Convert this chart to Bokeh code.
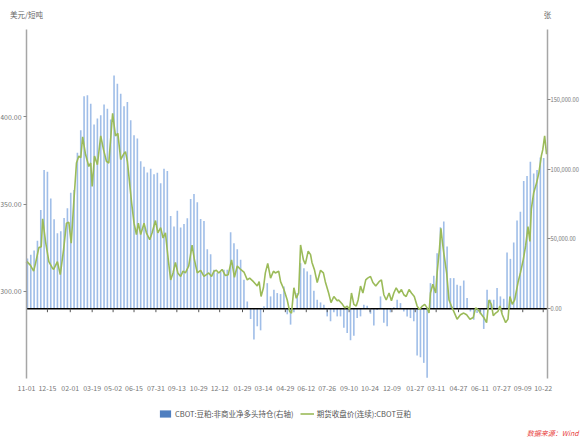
import pandas as pd
from bokeh.plotting import figure
from bokeh.models import (Range1d, LinearAxis, FixedTicker, NumeralTickFormatter,
                          DatetimeTickFormatter, Legend, LegendItem, Label)
from bokeh.embed import file_html
from bokeh.resources import INLINE

# ---------------- data ----------------
# CBOT soybean meal: non-commercial net long position (contracts, right axis), weekly
net_long = [
    36000, 38600, 41700, 48600, 70700, 99300, 98100, 79000, 64000, 54000,
    55500, 65000, 72000, 83000, 85000, 111700, 127900, 152100, 152900, 146900,
    131900, 136200, 138600, 146200, 143300, 135500, 167100, 161200, 154000, 145000,
    148100, 135000, 124300, 121900, 105700, 101700, 97600, 100200, 96400, 97400,
    89800, 100200, 98600, 66400, 58800, 70200, 58100, 60700, 64800, 78600,
    82100, 76200, 64300, 62900, 42600, 39000, 27900, 25900, 26700, 27900,
    27900, 54800, 46900, 42600, 35000, 20700, 5200, -7400, -22100, -12600,
    -15500, 1700, 18300, 8800, 13600, 11200, 10500, 15900, -4000, -11400,
    -2600, 11200, 32600, 29000, 26700, 24300, 12900, 6400, 4500, 2900,
    -5500, -9000, -2600, -5500, -5500, -13600, -17400, -22600, -19300, -6700,
    -5500, 2900, 2100, -3600, -12100, -1000, 8800, -10000, -12600, -2600,
    1000, 6400, 4000, -2000, -5500, -6700, -9000, -33600, -34800, -38800,
    -49500, 18300, 23600, 39800, 58300, 62400, 44500, 21900, 21900, 17100,
    16400, 20200, 7600, -2000, -7900, -3000, -4000, -14500, 13600, 6400,
    6400, 14800, 8800, 7100, 40200, 35700, 47400, 63100, 69500, 91400,
    95000, 105200, 96900, 99300, 108300, 108000,
]
net_first_date = "2017-11-03"

# continuous futures close, USD / short ton (left axis); days after price_start
price_start = "2017-11-01"
price_day = [
    0, 1, 8, 15, 19, 26, 31, 34, 40, 47, 54, 57, 65, 71, 78, 84, 89, 94, 99, 105,
    110, 114, 118, 124, 131, 135, 138, 143, 149, 156, 162, 168, 173, 181, 187, 192, 198, 205, 208, 212,
    216, 221, 226, 231, 235, 240, 247, 252, 259, 264, 271, 276, 282, 287, 292, 298, 303, 308, 313, 318,
    324, 329, 334, 341, 348, 353, 359, 366, 373, 378, 383, 389, 394, 399, 404, 411, 418, 424, 431, 437,
    443, 450, 457, 464, 469, 477, 485, 489, 493, 498, 502, 507, 513, 519, 523, 530, 534, 541, 548, 553,
    557, 562, 567, 572, 576, 582, 586, 592, 597, 600, 605, 611, 618, 624, 628, 635, 640, 646, 653, 656,
    664, 669, 674, 679, 683, 688, 693, 697, 702, 707, 713, 717, 723, 728, 734, 741, 746, 751, 756, 762,
    767, 772, 777, 783, 788, 793, 798, 804, 809, 815, 821, 826, 832, 837, 842, 846, 849, 854, 860, 863,
    868, 871, 874, 877, 883, 888, 893, 898, 905, 912, 919, 925, 932, 939, 944, 949, 954, 961, 967, 972,
    977, 981, 986, 991, 995, 1000, 1007, 1012, 1016, 1021, 1026, 1033, 1038, 1044, 1049, 1054, 1058, 1061, 1066, 1072,
    1077, 1082, 1085, 1089, 1093,
]
price = [
    316, 317, 315, 311.5, 316, 325, 325.5, 341.5, 328.5, 317, 313.5, 312.5, 317, 309.5, 324, 339, 339.5, 327.5, 349.5, 373.5,
    377.5, 376.5, 388.5, 378.5, 371.5, 373.5, 360, 377.5, 372.5, 389, 381, 374.5, 373.5, 402, 389, 390.5, 375.5, 379, 380, 374.5,
    364, 350.5, 339, 332.5, 339, 332.5, 339, 333.5, 329.5, 333.5, 340.5, 333.5, 336.5, 330.5, 333.5, 318, 306.5, 310.5, 316.5, 310.5,
    308.5, 311.5, 310.5, 314.5, 326.5, 318, 310.5, 312, 308.5, 309.5, 310.5, 308.5, 311.5, 312, 310.5, 312.5, 309, 309.5, 318, 308,
    314.5, 312.5, 311, 306.5, 307.5, 305.5, 303, 305.5, 297, 302, 310.5, 316, 307.5, 311.5, 310.5, 311.5, 305.5, 301, 295, 288.5,
    287.5, 302, 296, 299, 326.5, 318, 315.5, 323, 321, 316.5, 312.5, 305, 312, 310.5, 305.5, 299, 293.5, 297, 294.5, 295,
    292.5, 290.5, 291.5, 289.5, 299, 292.5, 291.5, 295, 303, 299, 306.5, 307.5, 308.5, 305, 303, 305.5, 306.5, 298, 295, 299,
    294.5, 299, 302, 299, 301, 298, 297, 301, 299, 297, 291.5, 289.5, 291.5, 292.5, 290.5, 287.5, 299, 304, 299, 310.5,
    324.5, 336, 328.5, 322, 310.5, 295, 291.5, 288.5, 284, 286.5, 287.5, 286.5, 284, 285, 290.5, 289.5, 287.5, 285, 282, 295,
    292.5, 286, 287.5, 288.5, 291.5, 286.5, 282, 284, 297, 292.5, 295, 305, 310.5, 318, 326, 337, 328.5, 347, 356.5, 362,
    368, 377.5, 381, 389, 378.5,
]

tick_dates = [
    "2017-11-01", "2017-12-15", "2018-02-01", "2018-03-19", "2018-05-02", "2018-06-15",
    "2018-07-31", "2018-09-13", "2018-10-29", "2018-12-12", "2019-01-29", "2019-03-14",
    "2019-04-29", "2019-06-12", "2019-07-26", "2019-09-10", "2019-10-24", "2019-12-09",
    "2020-01-27", "2020-03-11", "2020-04-27", "2020-06-11", "2020-07-27", "2020-09-09",
    "2020-10-22",
]
x_start, x_end = "2017-11-01", "2020-10-31"      # span of the axes
left_bounds = (250, 450)
left_ticks = [300, 350, 400]
right_bounds = (-50000, 200000)
right_ticks = [0, 50000, 100000, 150000]

bar_label = "CBOT:豆粕:非商业净多头持仓(右轴)"
line_label = "期货收盘价(连续):CBOT豆粕"
left_unit = "美元/短吨"
right_unit = "张"
source_note = "数据来源：Wind"

# ---------------- layout constants (canvas pixels) ----------------
W, H = 582, 439
AX_LEFT, AX_RIGHT = 26, 547
AX_TOP, AX_BOTTOM = 29, 378

# ---------------- derived ----------------
ms = lambda d: pd.Timestamp(d).value // 10**6
DAY = 86400000
net_ms = [ms(net_first_date) + 7 * DAY * i for i in range(len(net_long))]
price_ms = [ms(price_start) + DAY * d for d in price_day]
tick_ms = [ms(d) for d in tick_dates]
xs, xe = ms(x_start), ms(x_end)

# the frame covers the whole canvas; the axes are pinned and bounded
x_per_px = (xe - xs) / (AX_RIGHT - AX_LEFT)
x_range = Range1d(xs - x_per_px * AX_LEFT, xe + x_per_px * (W - AX_RIGHT))
def ext(lo, hi):
    per = (hi - lo) / (AX_BOTTOM - AX_TOP)
    return Range1d(lo - per * (H - AX_BOTTOM), hi + per * AX_TOP)

CJK = "Noto Sans CJK SC"
AXIS_GREY = "#a6a6a6"
LABEL_GREY = "#777777"

p = figure(width=W, height=H, x_range=x_range, y_range=ext(*left_bounds),
           output_backend="svg", toolbar_location=None,
           min_border_top=0, min_border_left=0, min_border_right=0, min_border_bottom=0)
p.extra_y_ranges = {"right": ext(*right_bounds)}
p.outline_line_color = None
p.grid.visible = False

bars = p.vbar(x=net_ms, top=net_long, bottom=0, width=3.4 * DAY,
              y_range_name="right", fill_color="#a0bee8", line_color=None)
# legend proxy (zero-height bar) carrying the legend swatch colour
bar_key = p.vbar(x=net_ms[:1], top=[0], bottom=0, width=DAY, y_range_name="right",
                 fill_color="#4f7fc0", line_color=None)

# zero line of the right axis with the date ticks hanging from it
p.segment(x0=[xs], y0=[0], x1=[xe], y1=[0], y_range_name="right",
          line_color="black", line_width=1.5)
p.segment(x0=tick_ms, y0=[0] * len(tick_ms), x1=tick_ms, y1=[-2500] * len(tick_ms),
          y_range_name="right", line_color="#555555", line_width=1)

line = p.line(price_ms, price, line_color="#9bbb59", line_width=1.6)

ya = p.yaxis[0]
ya.ticker = FixedTicker(ticks=left_ticks)
ya.formatter = NumeralTickFormatter(format="0.00")
ya.bounds = left_bounds
ya.fixed_location = xs

ra = LinearAxis(y_range_name="right", ticker=FixedTicker(ticks=right_ticks),
                formatter=NumeralTickFormatter(format="0,0.00"),
                bounds=right_bounds, fixed_location=xe)
p.add_layout(ra, "right")

for ax in (ya, ra):
    ax.axis_line_color = AXIS_GREY
    ax.axis_line_width = 1.5
    ax.major_tick_line_color = "#888888"
    ax.major_tick_out = 3
    ax.major_tick_in = 0
    ax.minor_tick_out = 0
    ax.minor_tick_in = 0
    ax.major_label_standoff = 2
    ax.major_label_text_font = CJK
    ax.major_label_text_font_size = "7px"
    ax.major_label_text_color = LABEL_GREY
ra.major_label_standoff = 0
ra.major_label_text_font_size = "5.7px"

xa = p.xaxis[0]
xa.ticker = FixedTicker(ticks=tick_ms)
xa.formatter = DatetimeTickFormatter(days="%m-%d", months="%m-%d", years="%m-%d")
xa.fixed_location = left_bounds[0]
xa.axis_line_color = None
xa.major_tick_out = 0
xa.major_tick_in = 0
xa.minor_tick_out = 0
xa.minor_tick_in = 0
xa.major_label_standoff = 6
xa.major_label_text_font = CJK
xa.major_label_text_font_size = "7px"
xa.major_label_text_color = LABEL_GREY

legend = Legend(items=[LegendItem(label=bar_label, renderers=[bar_key]),
                       LegendItem(label=line_label, renderers=[line])],
                orientation="horizontal", location=(158, 20),
                border_line_color=None, background_fill_alpha=0,
                label_text_font=CJK, label_text_font_size="7.5px",
                label_text_color="#555555", glyph_width=14, glyph_height=9,
                label_height=9, spacing=6, padding=2, margin=0, label_standoff=3)
p.add_layout(legend)

p.add_layout(Label(x=xs, y=left_bounds[1], y_offset=15, text=left_unit,
                   text_align="center", text_baseline="middle", text_font=CJK,
                   text_font_size="7.5px", text_color="#666666"))
p.add_layout(Label(x=xe, y=left_bounds[1], y_offset=15, text=right_unit,
                   text_align="center", text_baseline="middle", text_font=CJK,
                   text_font_size="7.5px", text_color="#666666"))
p.add_layout(Label(x=xe, y=left_bounds[0], x_offset=31, y_offset=-54, text=source_note,
                   text_align="right", text_baseline="middle", text_font=CJK,
                   text_font_style="italic", text_font_size="7px", text_color="#e8413c"))

open("out.html", "w").write(file_html(p, INLINE))
